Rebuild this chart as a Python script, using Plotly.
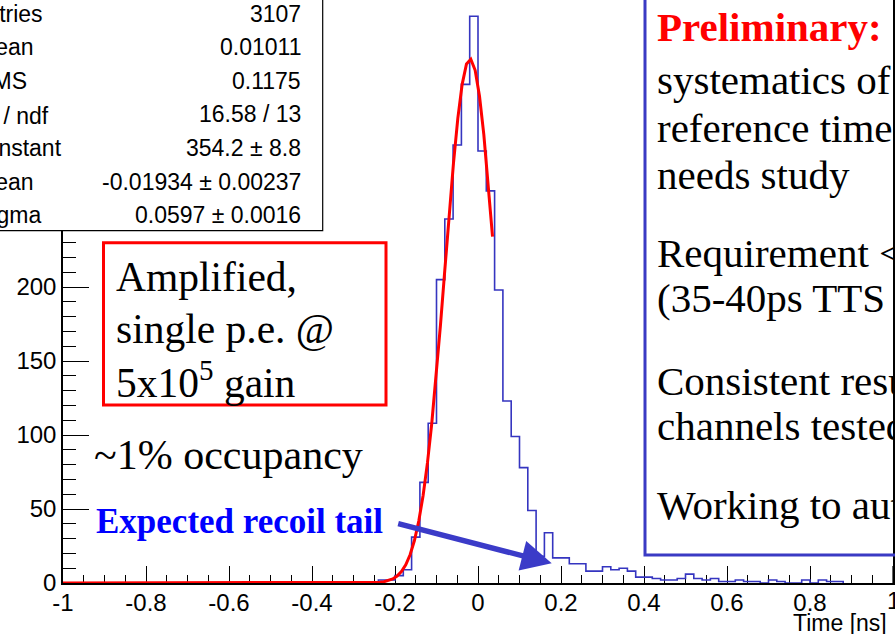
import numpy as np
import plotly.graph_objects as go

# ---------------- data ----------------
bin_low = -1.0
bin_width = 0.02
# histogram counts, 100 bins from -1.00 to 1.00
counts = [0, 0, 0, 0, 0, 0, 0, 0, 0, 0,
          0, 0, 0, 0, 0, 0, 0, 0, 0, 0,
          0, 0, 0, 0, 0, 0, 0, 0, 0, 0,
          0, 0, 0, 0, 0, 0, 0, 0, 2, 2,
          5, 9, 31, 68, 108, 205, 246, 296, 337, 383,
          292, 265, 198, 123, 99, 78, 49, 18, 34, 17,
          17, 13, 13, 8, 8, 11, 9, 10, 8, 4,
          4, 3, 2, 2, 3, 6, 3, 2, 3, 1,
          1, 2, 1, 1, 0, 2, 1, 0, 0, 2,
          0, 2, 1, 1, 0, 0, 0, 0, 0, 0]

# Gaussian fit parameters shown in the stats box
fit_constant = 354.2
fit_mean = -0.01934
fit_sigma = 0.0597
fit_range = [-1.0, 0.035]
fit_npx = 100

stat_labels = ["Entries", "Mean", "RMS", "χ<sup>2</sup> / ndf", "Constant", "Mean", "Sigma"]
stat_values = ["3107", "0.01011", "0.1175", "16.58 / 13", "354.2 ± 8.8",
               "-0.01934 ± 0.00237", "0.0597 ± 0.0016"]

x_tick_vals = [-1, -0.8, -0.6, -0.4, -0.2, 0, 0.2, 0.4, 0.6, 0.8, 1]
x_tick_text = ["-1", "-0.8", "-0.6", "-0.4", "-0.2", "0", "0.2", "0.4", "0.6", "0.8", "1"]
y_tick_vals = [0, 50, 100, 150, 200, 250, 300, 350]
y_tick_text = ["0", "50", "100", "150", "200", "250", "300", "350"]
x_title = "Time [ns]"

red_box_lines = ["Amplified,", "single p.e. @", "5x10<sup>5</sup> gain"]
occupancy_text = "~1% occupancy"
tail_text = "Expected recoil tail"
right_lines = [
    ("<b>Preliminary:</b>", "#ff0000"),
    ("systematics of the", "black"),
    ("reference time", "black"),
    ("needs study", "black"),
    ("Requirement < 100ps", "black"),
    ("(35-40ps TTS included)", "black"),
    ("Consistent results", "black"),
    ("channels tested", "black"),
    ("Working to automate", "black"),
]

# ---------------- build histogram outline ----------------
nz = [i for i, c in enumerate(counts) if c > 0]
i0, i1 = nz[0], nz[-1]
hx, hy = [bin_low + i0 * bin_width], [0]
for i in range(i0, i1 + 1):
    lo = bin_low + i * bin_width
    hi = lo + bin_width
    hx += [lo, hi]
    hy += [counts[i], counts[i]]
hx.append(bin_low + (i1 + 1) * bin_width)
hy.append(0)

fx = np.linspace(fit_range[0], fit_range[1], fit_npx)
fy = fit_constant * np.exp(-0.5 * ((fx - fit_mean) / fit_sigma) ** 2)

# ---------------- layout geometry (pixels) ----------------
W, H = 895, 634
PL, PR, PT, PB = 63, 893, 0, 583


def px(x):
    return (x - PL) / (PR - PL)


def py(y):
    return (PB - y) / (PB - PT)


SANS = "Liberation Sans, Arial, Helvetica, sans-serif"
SERIF = "Liberation Serif, Times New Roman, serif"

fig = go.Figure()
fig.add_trace(go.Scatter(x=hx, y=hy, mode="lines",
                         line=dict(color="#3535c0", width=1.6),
                         hoverinfo="skip"))
fig.add_trace(go.Scatter(x=fx, y=fy, mode="lines",
                         line=dict(color="#ff0000", width=3),
                         hoverinfo="skip"))

shapes = []
# stats box
shapes.append(dict(type="rect", xref="paper", yref="paper",
                   x0=px(-10), x1=px(322.7), y0=py(230.7), y1=py(-10),
                   line=dict(color="black", width=1.2), fillcolor="white",
                   layer="above"))
# red box
shapes.append(dict(type="rect", xref="paper", yref="paper",
                   x0=px(103.5), x1=px(386), y0=py(405), y1=py(242.7),
                   line=dict(color="#ff0000", width=3), fillcolor="rgba(0,0,0,0)",
                   layer="above"))
# blue box on the right
shapes.append(dict(type="rect", xref="paper", yref="paper",
                   x0=px(645), x1=px(960), y0=py(555), y1=py(-20),
                   line=dict(color="#3a3ac4", width=3), fillcolor="rgba(0,0,0,0)",
                   layer="above"))

ann = []
row0, drow = 13.5, 33.6
label_x = [-31, -26, -26, -26, -33, -26, -26]
for k, (lab, val) in enumerate(zip(stat_labels, stat_values)):
    yc = row0 + k * drow
    ann.append(dict(x=px(label_x[k]), y=py(yc), xref="paper", yref="paper",
                    xanchor="left", yanchor="middle", showarrow=False,
                    text=lab, font=dict(family=SANS, size=23, color="black")))
    ann.append(dict(x=px(303), y=py(yc), xref="paper", yref="paper",
                    xanchor="right", yanchor="middle", showarrow=False,
                    text=val, font=dict(family=SANS, size=23, color="black")))

for k, t in enumerate(red_box_lines):
    ann.append(dict(x=px(114), y=py(277 + 51.5 * k), xref="paper", yref="paper",
                    xanchor="left", yanchor="middle", showarrow=False,
                    text=t, font=dict(family=SERIF, size=41.5, color="black")))

ann.append(dict(x=px(92), y=py(455), xref="paper", yref="paper",
                xanchor="left", yanchor="middle", showarrow=False,
                text=occupancy_text, font=dict(family=SERIF, size=42, color="black")))
ann.append(dict(x=px(94), y=py(521), xref="paper", yref="paper",
                xanchor="left", yanchor="middle", showarrow=False,
                text="<b>" + tail_text + "</b>",
                font=dict(family=SERIF, size=35, color="#0000ff")))

right_y = [27, 80, 128, 175, 253, 298, 381, 426, 505]
for (t, col), yc in zip(right_lines, right_y):
    ann.append(dict(x=px(655), y=py(yc), xref="paper", yref="paper",
                    xanchor="left", yanchor="middle", showarrow=False,
                    text=t, font=dict(family=SERIF, size=41, color=col)))

# arrow
ann.append(dict(x=px(551.7), y=py(563.3), xref="paper", yref="paper",
                ax=-155, ay=-40, showarrow=True, arrowhead=2, arrowsize=1.1,
                arrowwidth=5.5, arrowcolor="#3b3bc8", text="", standoff=0))

# last x tick label (sits on the right edge of the picture)
ann.append(dict(x=x_tick_vals[-1], y=py(600), xref="x", yref="paper",
                xanchor="center", yanchor="middle", showarrow=False,
                text=x_tick_text[-1], font=dict(family=SANS, size=24, color="black")))

# axis title
ann.append(dict(x=px(889), y=py(623), xref="paper", yref="paper",
                xanchor="right", yanchor="middle", showarrow=False,
                text=x_title, font=dict(family=SANS, size=23, color="black")))

fig.update_layout(
    width=W, height=H,
    margin=dict(l=PL, r=W - PR, t=PT, b=H - PB, pad=0),
    paper_bgcolor="white", plot_bgcolor="white",
    showlegend=False,
    shapes=shapes, annotations=ann,
    xaxis=dict(range=[-1, 1], tickvals=x_tick_vals[:-1], ticktext=x_tick_text[:-1],
               ticks="inside", ticklen=17, tickwidth=1.2, tickcolor="black",
               minor=dict(ticks="inside", dtick=0.05, ticklen=8.5, tickwidth=1.2,
                          tickcolor="black", showgrid=False),
               showline=True, linecolor="black", linewidth=1.5, mirror=False,
               showgrid=False, zeroline=False, layer="below traces",
               ticklabelstandoff=-3,
               tickfont=dict(family=SANS, size=24, color="black")),
    yaxis=dict(range=[0, 394], tickvals=y_tick_vals, ticktext=y_tick_text,
               ticks="inside", ticklen=26, tickwidth=1.2, tickcolor="black",
               minor=dict(ticks="inside", dtick=10, ticklen=13, tickwidth=1.2,
                          tickcolor="black", showgrid=False),
               showline=True, linecolor="black", linewidth=1.5, mirror=True,
               showgrid=False, zeroline=False, layer="below traces",
               tickfont=dict(family=SANS, size=24, color="black")),
)

# major tick at x=1 (its label is the annotation above)
fig.add_shape(type="line", xref="x", yref="paper", x0=x_tick_vals[-1], x1=x_tick_vals[-1],
              y0=0, y1=17 / (PB - PT), line=dict(color="black", width=1.2))

fig.write_html("out.html")
